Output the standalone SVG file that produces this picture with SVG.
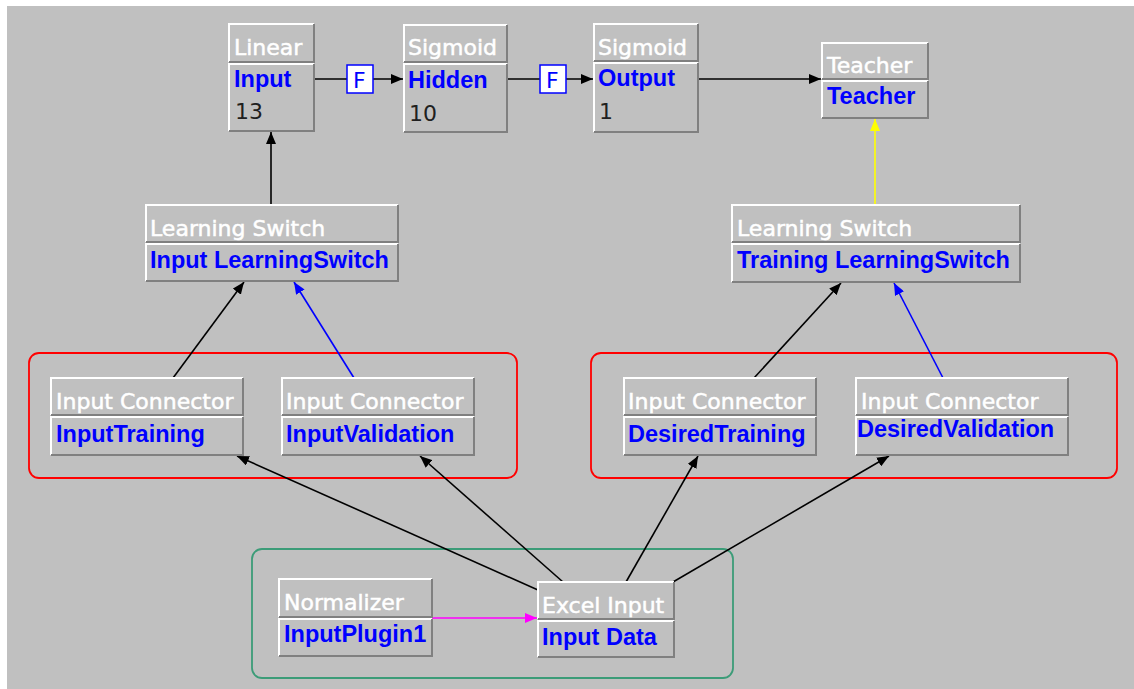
<svg xmlns="http://www.w3.org/2000/svg" width="1134" height="689" viewBox="0 0 1134 689">
<defs>
<style>
.bg{fill:#c0c0c0}
.panel{fill:#c0c0c0}
.hi{fill:none;stroke:#ffffff;stroke-width:2}
.lo{fill:none;stroke:#808080;stroke-width:2}
.title{font-family:"DejaVu Sans",sans-serif;font-size:22px;fill:#ffffff;stroke:#ffffff;stroke-width:0.5}
.name{font-family:"Liberation Sans",Arial,sans-serif;font-size:23.5px;font-weight:bold;fill:#0000ff}
.num{font-family:"DejaVu Sans",sans-serif;font-size:22px;fill:#202020}
.edge{fill:none;stroke-width:1.6}
.grp{fill:none;stroke-width:1.8}
.fbox{fill:#ffffff;stroke:#0000ff;stroke-width:1.5}
.ftxt{font-family:"DejaVu Sans",sans-serif;font-size:22px;fill:#0000ff}
</style>
<marker id="ak" markerUnits="userSpaceOnUse" markerWidth="13" markerHeight="10" refX="12" refY="5" orient="auto"><path d="M0,0 L12,5 L0,10 z" fill="#000000"/></marker>
<marker id="ab" markerUnits="userSpaceOnUse" markerWidth="13" markerHeight="10" refX="12" refY="5" orient="auto"><path d="M0,0 L12,5 L0,10 z" fill="#0000ff"/></marker>
<marker id="ay" markerUnits="userSpaceOnUse" markerWidth="13" markerHeight="10" refX="12" refY="5" orient="auto"><path d="M0,0 L12,5 L0,10 z" fill="#ffff00"/></marker>
<marker id="am" markerUnits="userSpaceOnUse" markerWidth="13" markerHeight="10" refX="12" refY="5" orient="auto"><path d="M0,0 L12,5 L0,10 z" fill="#ff00ff"/></marker>
</defs>
<rect x="0" y="0" width="1134" height="689" fill="#ffffff"/>
<rect class="bg" x="7" y="6" width="1127" height="683"/>

<g id="groups">
<rect class="grp" x="29" y="353" width="488" height="125" rx="10" stroke="#ff0000"/>
<rect class="grp" x="591" y="353" width="526" height="125" rx="10" stroke="#ff0000"/>
<rect class="grp" x="252" y="549" width="481" height="129" rx="10" stroke="#3c9c78"/>
</g>

<g id="connectors">
<line class="edge" x1="314" y1="79" x2="403" y2="79" stroke="#000" marker-end="url(#ak)"/>
<line class="edge" x1="507" y1="79" x2="593" y2="79" stroke="#000" marker-end="url(#ak)"/>
<line class="edge" x1="698" y1="79" x2="821" y2="79" stroke="#000" marker-end="url(#ak)"/>
<line class="edge" x1="271" y1="205" x2="271" y2="132" stroke="#000" marker-end="url(#ak)"/>
<line class="edge" x1="875" y1="205" x2="875" y2="119" stroke="#ffff00" marker-end="url(#ay)"/>
<line class="edge" x1="173" y1="378" x2="244" y2="282" stroke="#000" marker-end="url(#ak)"/>
<line class="edge" x1="354" y1="378" x2="294" y2="282" stroke="#0000ff" marker-end="url(#ab)"/>
<line class="edge" x1="754" y1="378" x2="841" y2="283" stroke="#000" marker-end="url(#ak)"/>
<line class="edge" x1="943" y1="378" x2="894" y2="283" stroke="#0000ff" marker-end="url(#ab)"/>
<line class="edge" x1="538" y1="590" x2="237" y2="456" stroke="#000" marker-end="url(#ak)"/>
<line class="edge" x1="563" y1="582" x2="420" y2="456" stroke="#000" marker-end="url(#ak)"/>
<line class="edge" x1="626" y1="582" x2="698" y2="456" stroke="#000" marker-end="url(#ak)"/>
<line class="edge" x1="673" y1="582" x2="889" y2="456" stroke="#000" marker-end="url(#ak)"/>
<line class="edge" x1="432" y1="618" x2="537" y2="618" stroke="#ff00ff" marker-end="url(#am)"/>
<g id="f1"><rect class="fbox" x="347" y="65" width="26" height="28"/><text class="ftxt" x="353" y="88">F</text></g>
<g id="f2"><rect class="fbox" x="540" y="65" width="26" height="28"/><text class="ftxt" x="546" y="88">F</text></g>
</g>

<g id="node-linear">
<rect class="panel" x="229" y="24" width="85" height="107"/>
<path class="hi" d="M229,62 V24 H314"/><path class="lo" d="M314,24 V62 H229"/>
<path class="hi" d="M229,131 V64 H314"/><path class="lo" d="M314,64 V131 H229"/>
<text class="title" x="234" y="55">Linear</text>
<text class="name" x="234" y="87">Input</text>
<text class="num" x="235" y="119">13</text>
</g>

<g id="node-hidden">
<rect class="panel" x="404" y="25" width="103" height="107"/>
<path class="hi" d="M404,62 V25 H507"/><path class="lo" d="M507,25 V62 H404"/>
<path class="hi" d="M404,132 V64 H507"/><path class="lo" d="M507,64 V132 H404"/>
<text class="title" x="408" y="55">Sigmoid</text>
<text class="name" x="408" y="88">Hidden</text>
<text class="num" x="409" y="121">10</text>
</g>

<g id="node-output">
<rect class="panel" x="594" y="24" width="104" height="108"/>
<path class="hi" d="M594,61 V24 H698"/><path class="lo" d="M698,24 V61 H594"/>
<path class="hi" d="M594,132 V63 H698"/><path class="lo" d="M698,63 V132 H594"/>
<text class="title" x="598" y="55">Sigmoid</text>
<text class="name" x="598" y="86">Output</text>
<text class="num" x="599" y="119">1</text>
</g>

<g id="node-teacher">
<rect class="panel" x="822" y="43" width="106" height="75"/>
<path class="hi" d="M822,79 V43 H928"/><path class="lo" d="M928,43 V79 H822"/>
<path class="hi" d="M822,118 V81 H928"/><path class="lo" d="M928,81 V118 H822"/>
<text class="title" x="827" y="73">Teacher</text>
<text class="name" x="827" y="104">Teacher</text>
</g>

<g id="node-ls-input">
<rect class="panel" x="146" y="205" width="252" height="76"/>
<path class="hi" d="M146,242 V205 H398"/><path class="lo" d="M398,205 V242 H146"/>
<path class="hi" d="M146,281 V244 H398"/><path class="lo" d="M398,244 V281 H146"/>
<text class="title" x="150" y="236">Learning Switch</text>
<text class="name" x="150" y="268">Input LearningSwitch</text>
</g>

<g id="node-ls-training">
<rect class="panel" x="732" y="205" width="288" height="77"/>
<path class="hi" d="M732,242 V205 H1020"/><path class="lo" d="M1020,205 V242 H732"/>
<path class="hi" d="M732,282 V244 H1020"/><path class="lo" d="M1020,244 V282 H732"/>
<text class="title" x="737" y="236">Learning Switch</text>
<text class="name" x="737" y="268">Training LearningSwitch</text>
</g>

<g id="node-inputtraining">
<rect class="panel" x="51" y="378" width="192" height="77"/>
<path class="hi" d="M51,415 V378 H243"/><path class="lo" d="M243,378 V415 H51"/>
<path class="hi" d="M51,455 V417 H243"/><path class="lo" d="M243,417 V455 H51"/>
<text class="title" x="56" y="409">Input Connector</text>
<text class="name" x="56" y="442">InputTraining</text>
</g>

<g id="node-inputvalidation">
<rect class="panel" x="282" y="378" width="192" height="77"/>
<path class="hi" d="M282,415 V378 H474"/><path class="lo" d="M474,378 V415 H282"/>
<path class="hi" d="M282,455 V417 H474"/><path class="lo" d="M474,417 V455 H282"/>
<text class="title" x="286" y="409">Input Connector</text>
<text class="name" x="286" y="442">InputValidation</text>
</g>

<g id="node-desiredtraining">
<rect class="panel" x="624" y="378" width="192" height="77"/>
<path class="hi" d="M624,415 V378 H816"/><path class="lo" d="M816,378 V415 H624"/>
<path class="hi" d="M624,455 V417 H816"/><path class="lo" d="M816,417 V455 H624"/>
<text class="title" x="628" y="409">Input Connector</text>
<text class="name" x="628" y="442">DesiredTraining</text>
</g>

<g id="node-desiredvalidation">
<rect class="panel" x="856" y="378" width="212" height="77"/>
<path class="hi" d="M856,415 V378 H1068"/><path class="lo" d="M1068,378 V415 H856"/>
<path class="hi" d="M856,455 V417 H1068"/><path class="lo" d="M1068,417 V455 H856"/>
<text class="title" x="861" y="409">Input Connector</text>
<text class="name" x="857" y="437">DesiredValidation</text>
</g>

<g id="node-normalizer">
<rect class="panel" x="279" y="579" width="153" height="77"/>
<path class="hi" d="M279,617 V579 H432"/><path class="lo" d="M432,579 V617 H279"/>
<path class="hi" d="M279,656 V619 H432"/><path class="lo" d="M432,619 V656 H279"/>
<text class="title" x="284" y="610">Normalizer</text>
<text class="name" x="284" y="642">InputPlugin1</text>
</g>

<g id="node-excel">
<rect class="panel" x="538" y="582" width="136" height="75"/>
<path class="hi" d="M538,619 V582 H674"/><path class="lo" d="M674,582 V619 H538"/>
<path class="hi" d="M538,657 V621 H674"/><path class="lo" d="M674,621 V657 H538"/>
<text class="title" x="542" y="613">Excel Input</text>
<text class="name" x="542" y="645">Input Data</text>
</g>
</svg>
